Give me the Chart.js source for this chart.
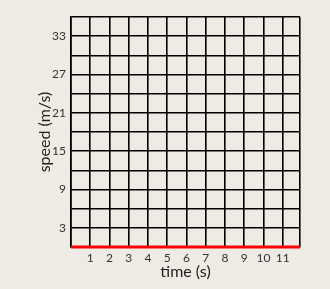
<!DOCTYPE html>
<html>
<head>
<meta charset="utf-8">
<script src="https://cdn.jsdelivr.net/npm/chart.js"></script>
<style>
  html, body { margin: 0; padding: 0; background: #eeebe4; }
  #wrap { width: 330px; height: 289px; }
</style>
</head>
<body>
<div id="wrap"><canvas id="speedChart"></canvas></div>
<script>
// grid ticks and labels
const timeTicks = [0, 1, 2, 3, 4, 5, 6, 7, 8, 9, 10, 11, 11.9];
const timeLabels = [1, 2, 3, 4, 5, 6, 7, 8, 9, 10, 11];
const speedTicks = [0, 3, 6, 9, 12, 15, 18, 21, 24, 27, 30, 33, 36];
const speedLabels = [3, 9, 15, 21, 27, 33];

// the red line along the bottom
const lineTimes = [0, 11.9];
const lineSpeeds = [0, 0];

const ctx = document.getElementById('speedChart');

new Chart(ctx, {
  type: 'line',
  data: {
    datasets: [{
      label: 'speed',
      data: lineTimes.map((t, i) => ({ x: t, y: lineSpeeds[i] })),
      borderColor: '#ff0000',
      borderWidth: 3,
      pointRadius: 0,
      clip: false
    }]
  },
  options: {
    responsive: true,
    maintainAspectRatio: false,
    animation: false,
    layout: { padding: { top: 17, right: 30, left: 0, bottom: 0 } },
    plugins: { legend: { display: false }, tooltip: { enabled: false } },
    scales: {
      x: {
        type: 'linear',
        min: 0,
        max: 11.9,
        afterBuildTicks: axis => { axis.ticks = timeTicks.map(v => ({ value: v })); },
        afterFit: scale => { scale.height = 42; },
        grid: { color: '#000', lineWidth: 1.6, drawTicks: false },
        border: { color: '#000', width: 1.6 },
        ticks: {
          autoSkip: false,
          maxRotation: 0,
          padding: 4,
          color: '#333',
          font: { family: 'Lato', size: 12 },
          callback: v => timeLabels.includes(v) ? String(v) : ''
        },
        title: {
          display: true,
          text: 'time (s)',
          color: '#222',
          font: { family: 'Lato', size: 16 },
          padding: { top: 0, bottom: 8 }
        }
      },
      y: {
        type: 'linear',
        min: 0,
        max: 36,
        afterBuildTicks: axis => { axis.ticks = speedTicks.map(v => ({ value: v })); },
        afterFit: scale => { scale.width = 71; },
        grid: { color: '#000', lineWidth: 1.6, drawTicks: false },
        border: { color: '#000', width: 1.6 },
        ticks: {
          autoSkip: false,
          padding: 5,
          color: '#333',
          font: { family: 'Lato', size: 12 },
          callback: v => speedLabels.includes(v) ? String(v) : ''
        },
        title: {
          display: true,
          text: 'speed (m/s)',
          color: '#222',
          font: { family: 'Lato', size: 16 },
          padding: { top: 35, bottom: 0 }
        }
      }
    }
  }
});
</script>
</body>
</html>
